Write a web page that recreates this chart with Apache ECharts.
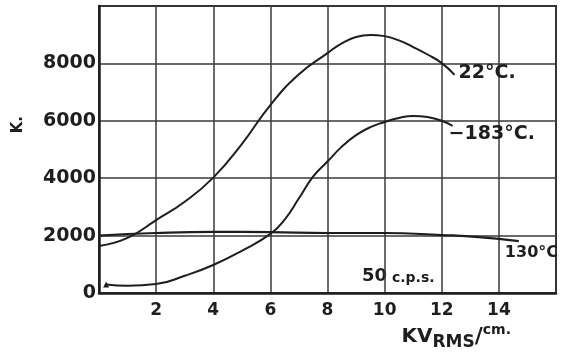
<!DOCTYPE html>
<html>
<head>
<meta charset="utf-8">
<script src="https://cdn.jsdelivr.net/npm/echarts@6/dist/echarts.min.js"></script>
<style>
  html, body { margin: 0; padding: 0; background: #fff; }
  #chart { width: 568px; height: 353px; }
</style>
</head>
<body>
<div id="chart"></div>
<script>
// Field strength (kV rms per cm) against K, at 50 c.p.s., three temperatures
const xWarm = [0, 1, 2, 3, 4, 5, 6, 7, 8, 8.5, 9, 9.5, 10, 10.5, 11, 11.5, 12, 12.45];
const yWarm = [1640, 1920, 2540, 3180, 4020, 5190, 6550, 7620, 8360, 8700, 8920, 8990, 8950, 8800, 8570, 8310, 8010, 7600];

const xCold = [0.25, 1, 2, 3, 4, 5, 6, 6.5, 7, 7.5, 8, 8.5, 9, 9.5, 10, 10.5, 11, 11.5, 12, 12.38];
const yCold = [300, 250, 310, 600, 975, 1470, 2060, 2560, 3300, 4060, 4580, 5100, 5500, 5780, 5960, 6100, 6170, 6130, 6000, 5820];

const xHot = [0, 2, 4, 6, 8, 10, 12, 13.3, 14.7];
const yHot = [2000, 2090, 2130, 2120, 2090, 2090, 2020, 1950, 1810];

const xTicks = [2, 4, 6, 8, 10, 12, 14];
const yTicks = [0, 2000, 4000, 6000, 8000];

const seriesNames = ['22°C.', '−183°C.', '130°C'];

const INK = '#1e1e1e';
const FONT = '"DejaVu Sans", sans-serif';

function pairs(xs, ys) {
  return xs.map((x, i) => [x, ys[i]]);
}

const coldData = pairs(xCold, yCold);
// small triangle at the first measured point of the cold curve
coldData[0] = { value: coldData[0], symbol: 'triangle', symbolSize: 6,
  itemStyle: { color: INK } };

const lineStyle = { color: INK, width: 2 };

const chart = echarts.init(document.getElementById('chart'), null, { renderer: 'canvas' });

chart.setOption({
  backgroundColor: '#ffffff',
  animation: false,
  grid: {
    left: 99, right: 12, top: 6, bottom: 60,
    show: true, borderColor: '#2a2a2a', borderWidth: 2
  },
  xAxis: {
    type: 'value', min: 0, max: 16, interval: 2,
    axisLine: { show: true, lineStyle: { color: INK, width: 2.5 } },
    axisTick: { show: false },
    splitLine: { show: true, lineStyle: { color: '#3a3a3a', width: 1.5 } },
    axisLabel: {
      margin: 9, color: INK, fontFamily: FONT, fontWeight: 'bold', fontSize: 17,
      formatter: v => xTicks.includes(v) ? String(v) : ''
    },
    name: '{kv|KV}{sub|RMS}{sl|/}{sup|cm.}',
    nameLocation: 'end',
    nameGap: -45,
    nameTextStyle: {
      align: 'right', verticalAlign: 'top', padding: [30, 0, 0, 0],
      rich: {
        kv: { fontFamily: FONT, fontWeight: 'bold', fontSize: 20, color: INK, lineHeight: 28, verticalAlign: 'middle' },
        sub: { fontFamily: FONT, fontWeight: 'bold', fontSize: 17, color: INK, lineHeight: 28, verticalAlign: 'bottom' },
        sl: { fontFamily: FONT, fontWeight: 'bold', fontSize: 22, color: INK, lineHeight: 28, verticalAlign: 'middle' },
        sup: { fontFamily: FONT, fontWeight: 'bold', fontSize: 14, color: INK, lineHeight: 28, verticalAlign: 'top' }
      }
    }
  },
  yAxis: {
    type: 'value', min: 0, max: 10000, interval: 2000,
    axisLine: { show: true, lineStyle: { color: INK, width: 2.5 } },
    axisTick: { show: false },
    splitLine: { show: true, lineStyle: { color: '#3a3a3a', width: 1.5 } },
    axisLabel: {
      margin: 3, color: INK, fontFamily: FONT, fontWeight: 'bold', fontSize: 19,
      formatter: v => yTicks.includes(v) ? String(v) : ''
    }
  },
  graphic: [
    {
      type: 'text', left: 11, top: 116, rotation: Math.PI / 2,
      style: { text: 'K.', fill: INK, font: 'bold 15px ' + FONT }
    },
    {
      type: 'text', left: 362, top: 267,
      style: {
        text: '{a|50}{b| c.p.s.}',
        rich: {
          a: { fontFamily: FONT, fontWeight: 'bold', fontSize: 18, fill: INK, verticalAlign: 'bottom', lineHeight: 21 },
          b: { fontFamily: FONT, fontWeight: 'bold', fontSize: 14, fill: INK, verticalAlign: 'bottom', lineHeight: 21 }
        }
      }
    }
  ],
  series: [
    {
      name: seriesNames[0], type: 'line', smooth: 0.5, symbol: 'none',
      lineStyle, data: pairs(xWarm, yWarm),
      endLabel: {
        show: true, formatter: seriesNames[0], distance: 4, offset: [0, -2],
        color: INK, fontFamily: FONT, fontWeight: 'bold', fontSize: 19
      }
    },
    {
      name: seriesNames[1], type: 'line', smooth: 0.5, symbol: 'none',
      lineStyle, data: coldData,
      endLabel: {
        show: true, formatter: seriesNames[1], distance: 0, offset: [-4, 8],
        color: INK, fontFamily: FONT, fontWeight: 'bold', fontSize: 19
      }
    },
    {
      name: seriesNames[2], type: 'line', smooth: 0.5, symbol: 'none',
      lineStyle: { color: INK, width: 2.2 }, data: pairs(xHot, yHot),
      endLabel: {
        show: true, formatter: seriesNames[2], distance: 0, offset: [-14, 12],
        color: INK, fontFamily: FONT, fontWeight: 'bold', fontSize: 16
      }
    }
  ]
});
</script>
</body>
</html>
